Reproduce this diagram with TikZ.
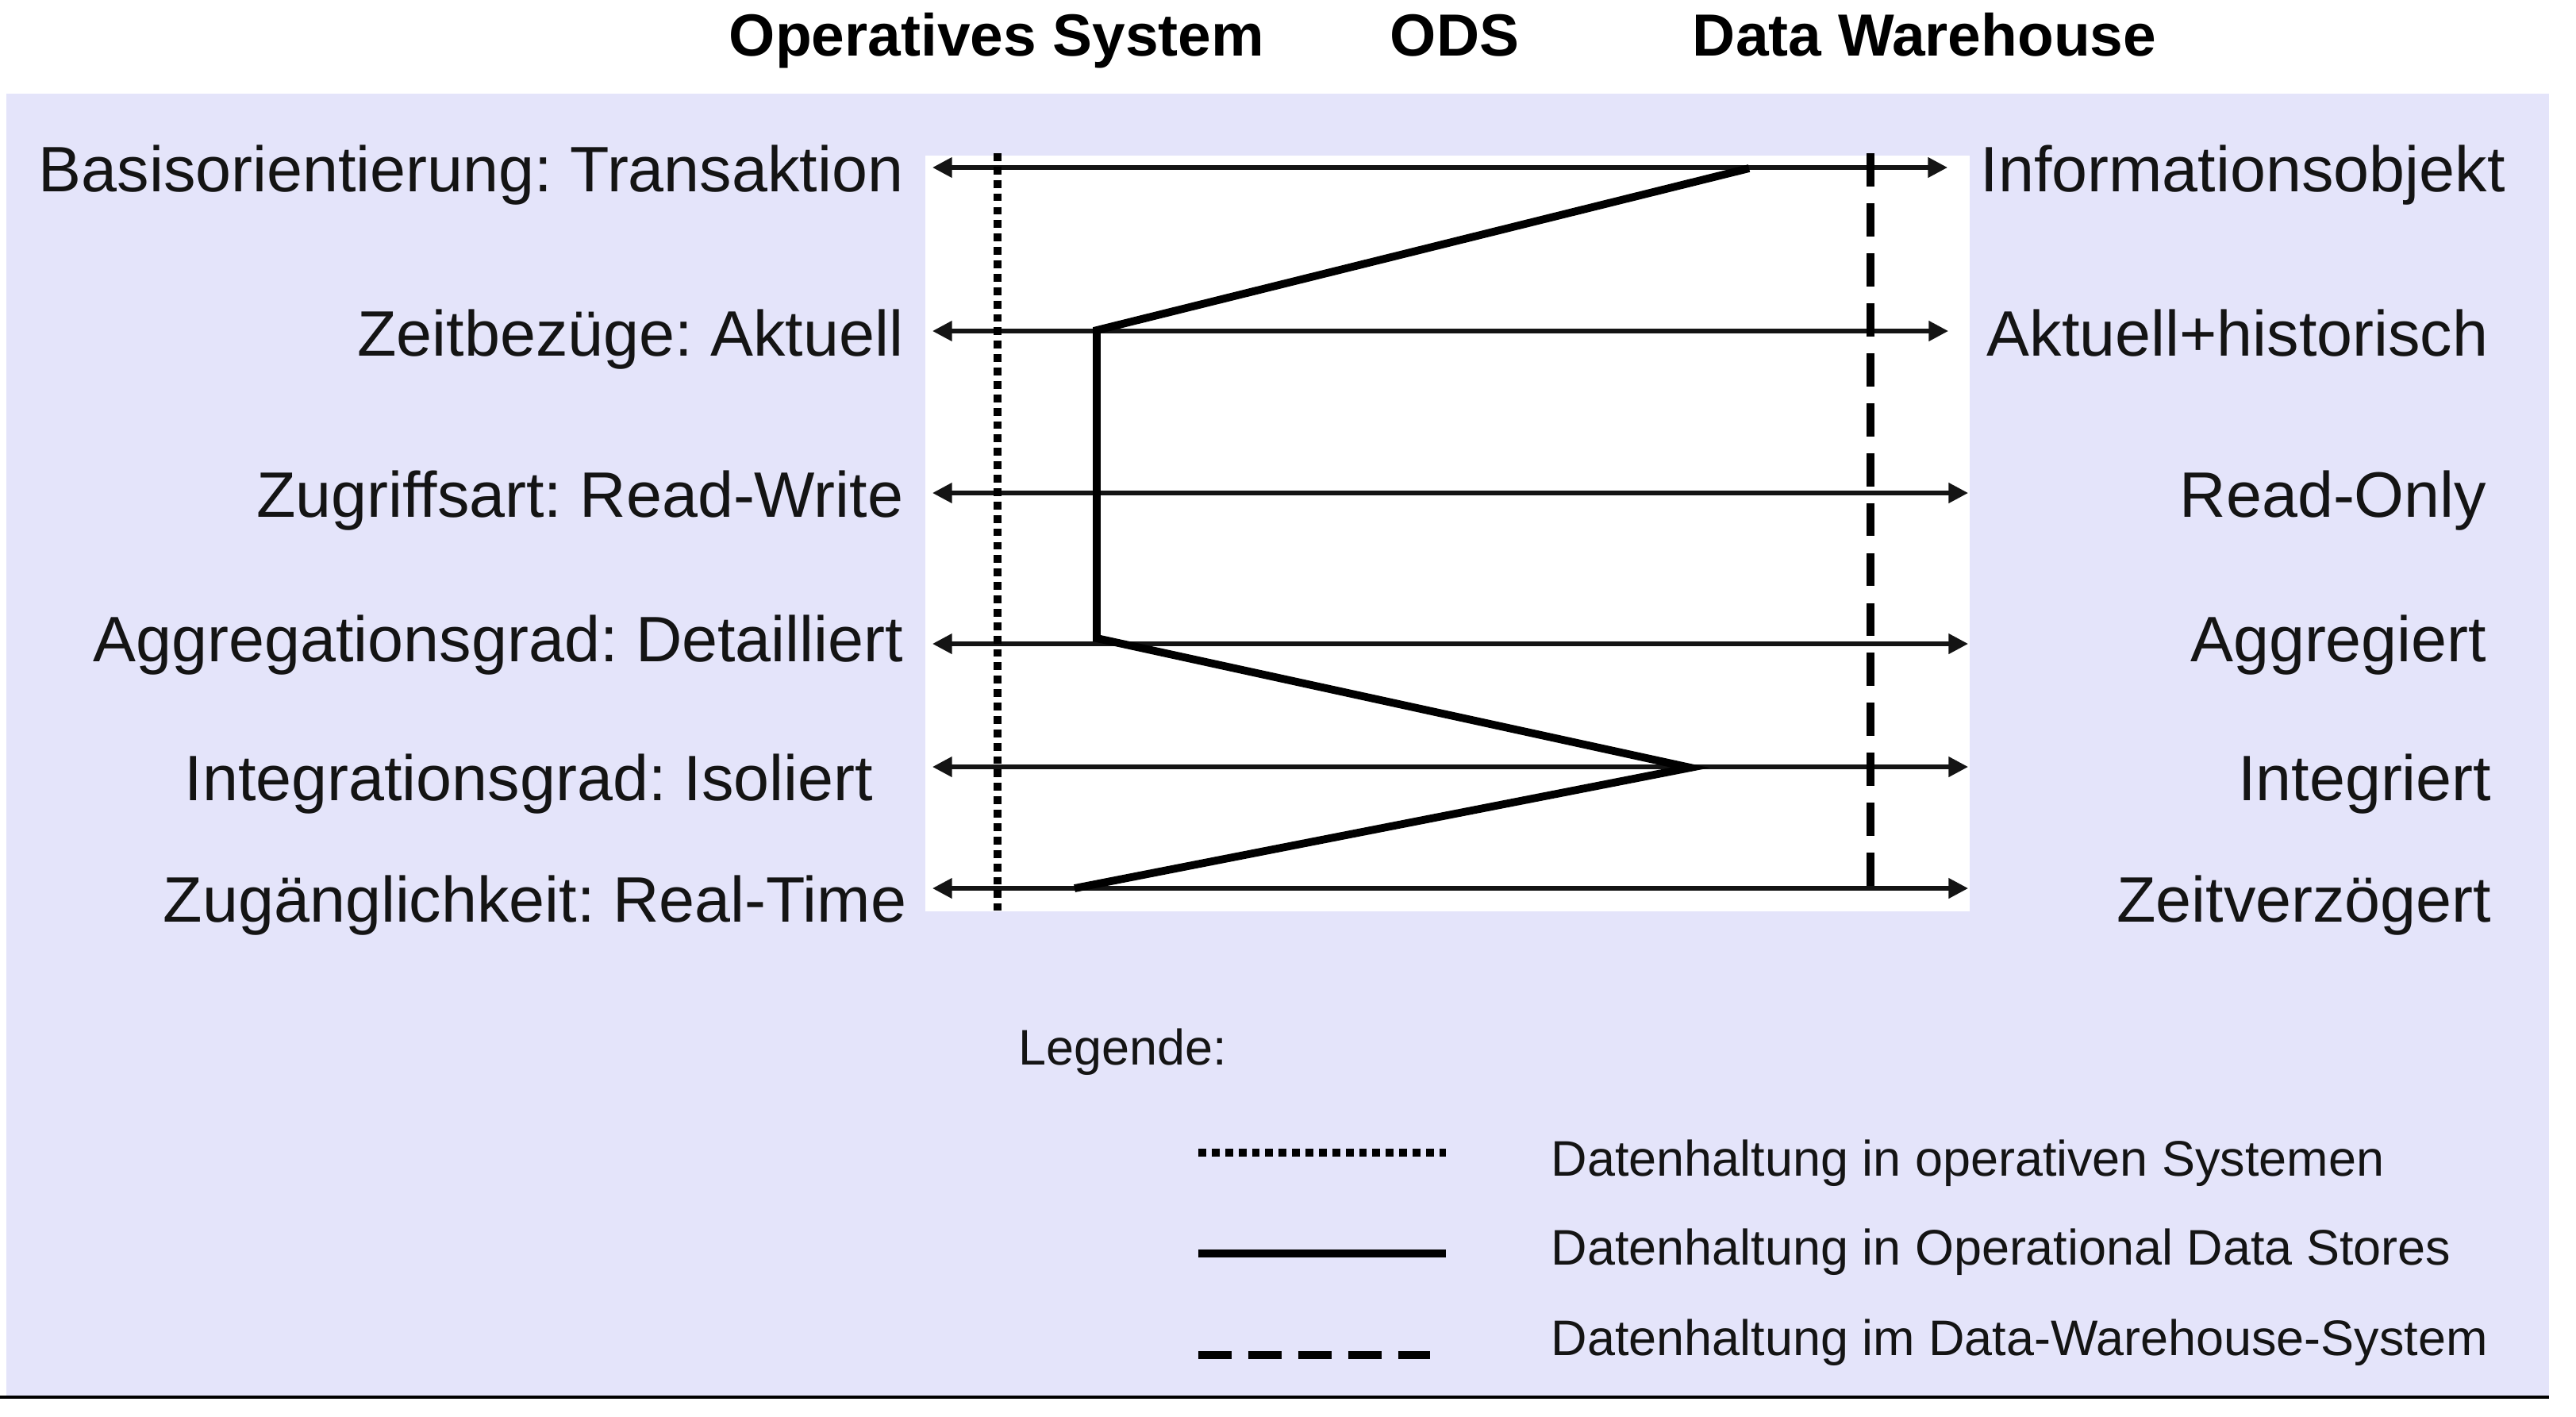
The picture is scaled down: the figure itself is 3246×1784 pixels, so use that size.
\documentclass[tikz,border=0pt]{standalone}
\usepackage{fontspec}
\setmainfont{Liberation Sans}
\usepackage{tikz}
\usetikzlibrary{arrows.meta}
\definecolor{panellilac}{HTML}{E4E4FA}
\definecolor{inkblack}{HTML}{141414}
\frenchspacing

\begin{document}
\begin{tikzpicture}[
    x=0.01cm, y=-0.01cm,
    head/.style={
        font=\fontsize{21.3pt}{24pt}\selectfont\bfseries,
        text=black, inner sep=0pt,
    },
    crit/.style={
        font=\fontsize{23pt}{26pt}\selectfont,
        text=inkblack, inner sep=0pt,
    },
    legtext/.style={
        font=\fontsize{17.9pt}{20pt}\selectfont,
        text=inkblack, inner sep=0pt,
    },
    axis/.style={
        line width=1.5pt, draw=inkblack,
        {Triangle[length=7pt,width=7pt]}-{Triangle[length=7pt,width=7pt]},
    },
    opsline/.style={line width=2.6pt, dash pattern=on 2.8pt off 2pt},
    odsline/.style={line width=2.8pt},
    dwline/.style={line width=2.7pt, dash pattern=on 11.9pt off 6pt},
]
\useasboundingbox (0,0) rectangle (3246,1784);

% Background
\fill[panellilac] (8,118) rectangle (3212,1758);
\fill[white] (1166,196) rectangle (2482,1148);
\draw[line width=1.3pt] (0,1760) -- (3212,1760);

% Headings
\node[head, anchor=base] (hops) at (1256,70) {Operatives System};
\node[head, anchor=base] (hods) at (1833,70) {ODS};
\node[head, anchor=base] (hdw) at (2425,70) {Data Warehouse};

% Axis ends
\coordinate (l1) at (1175,211);  \coordinate (r1) at (2454,211);
\coordinate (l2) at (1175,417);  \coordinate (r2) at (2455,417);
\coordinate (l3) at (1175,621);  \coordinate (r3) at (2480,621);
\coordinate (l4) at (1175,811);  \coordinate (r4) at (2480,811);
\coordinate (l5) at (1175,966);  \coordinate (r5) at (2480,966);
\coordinate (l6) at (1175,1119); \coordinate (r6) at (2480,1119);

% Axes
\draw[axis] (l1) -- (r1);
\draw[axis] (l2) -- (r2);
\draw[axis] (l3) -- (r3);
\draw[axis] (l4) -- (r4);
\draw[axis] (l5) -- (r5);
\draw[axis] (l6) -- (r6);

% Left labels
\node[crit, anchor=base east] (basis) at (1139,241) {Basisorientierung: Transaktion};
\node[crit, anchor=base east] (zeit) at (1139,448) {Zeitbezüge: Aktuell};
\node[crit, anchor=base east] (zugriff) at (1139,651) {Zugriffsart: Read-Write};
\node[crit, anchor=base east] (aggr) at (1139,833) {Aggregationsgrad: Detailliert};
\node[crit, anchor=base east] (integ) at (1101,1008) {Integrationsgrad: Isoliert};
\node[crit, anchor=base east] (zugang) at (1143,1161) {Zugänglichkeit: Real-Time};

% Right labels
\node[crit, anchor=base west] (infobj) at (2495,241) {Informationsobjekt};
\node[crit, anchor=base west] (hist) at (2503,448) {Aktuell+historisch};
\node[crit, anchor=base east] (ronly) at (3134,651) {Read-Only};
\node[crit, anchor=base east] (aggd) at (3134,833) {Aggregiert};
\node[crit, anchor=base east] (integd) at (3140,1008) {Integriert};
\node[crit, anchor=base east] (verz) at (3140,1161) {Zeitverzögert};

% Profiles
\coordinate (opstop) at (1257,193);  \coordinate (opsbot) at (1257,1147);
\coordinate (dwtop) at (2357,193);   \coordinate (dwbot) at (2357,1121);
\draw[opsline] (opstop) -- (opsbot);
\draw[dwline] (dwtop) -- (dwbot);
\coordinate (o1) at (2204,212);
\coordinate (o2) at (1382,416);
\coordinate (o4) at (1382,804);
\coordinate (o5) at (2130,967);
\coordinate (o6) at (1354,1119);
\draw[odsline] (o1) -- (o2) -- (o4) -- (o5) -- (o6);

% Legend
\node[legtext, anchor=base west] (legend) at (1283,1341) {Legende:};
\coordinate (k1a) at (1510,1452); \coordinate (k1b) at (1822,1452);
\coordinate (k2a) at (1510,1579); \coordinate (k2b) at (1822,1579);
\coordinate (k3a) at (1510,1707); \coordinate (k3b) at (1802,1707);
\draw[opsline] (k1a) -- (k1b);
\draw[odsline, line width=3pt] (k2a) -- (k2b);
\draw[dwline] (k3a) -- (k3b);
\node[legtext, anchor=base west] (legops) at (1954,1481) {Datenhaltung in operativen Systemen};
\node[legtext, anchor=base west] (legods) at (1954,1593) {Datenhaltung in Operational Data Stores};
\node[legtext, anchor=base west] (legdw) at (1954,1707) {Datenhaltung im Data-Warehouse-System};

\end{tikzpicture}
\end{document}
